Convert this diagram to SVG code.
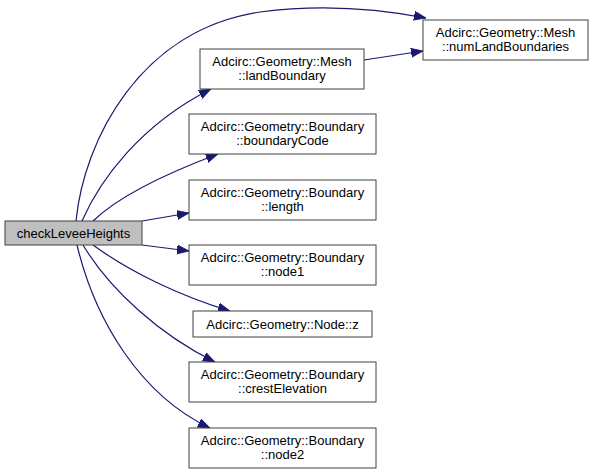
<svg xmlns="http://www.w3.org/2000/svg" width="593" height="474" viewBox="0 0 593 474">
<style>
.n rect{fill:#ffffff;stroke:#404040;stroke-width:1}
.n text{font-family:"Liberation Sans",Arial,sans-serif;font-size:13px;fill:#000;text-anchor:middle}
.root rect{fill:#bfbfbf}
.e path{fill:none;stroke:#191970;stroke-width:1.2;marker-end:url(#ah)}
</style>
<defs>
<marker id="ah" markerUnits="userSpaceOnUse" markerWidth="13" markerHeight="10" refX="12" refY="4.5" orient="auto">
<path d="M0,0 L12,4.5 L0,9 z" fill="#191970" stroke="#191970" stroke-width="0.8"/>
</marker>
</defs>
<rect width="593" height="474" fill="#ffffff"/>
<g id="connectors" class="e">
<path d="M76,221 C 84,140 140,30 260,12 C 320,4 380,9 426,18"/>
<path d="M82,221 C 100,180 140,125 211,89"/>
<path d="M93,221 C 120,195 170,172 218,154"/>
<path d="M142,221 L189,213"/>
<path d="M364,60 L423,51"/>
<path d="M142,245 L189,251"/>
<path d="M93,245 C 130,272 180,296 230,311"/>
<path d="M83,245 C 110,290 160,335 215,362"/>
<path d="M77,245 C 95,320 140,395 210,428"/>
</g>
<g id="checkLeveeHeights" class="n root"><rect x="5" y="221" width="137" height="24"/><text x="73.5" y="237.5">checkLeveeHeights</text></g>
<g id="numLandBoundaries" class="n"><rect x="423" y="20" width="165" height="40"/><text x="505.5" y="37">Adcirc::Geometry::Mesh</text><text x="505.5" y="51">::numLandBoundaries</text></g>
<g id="landBoundary" class="n"><rect x="200" y="49" width="164" height="40"/><text x="282" y="66">Adcirc::Geometry::Mesh</text><text x="282" y="80">::landBoundary</text></g>
<g id="boundaryCode" class="n"><rect x="189" y="114" width="187" height="40"/><text x="282.5" y="131">Adcirc::Geometry::Boundary</text><text x="282.5" y="145">::boundaryCode</text></g>
<g id="length" class="n"><rect x="189" y="180" width="187" height="40"/><text x="282.5" y="197">Adcirc::Geometry::Boundary</text><text x="282.5" y="211">::length</text></g>
<g id="node1" class="n"><rect x="189" y="245" width="187" height="40"/><text x="282.5" y="262">Adcirc::Geometry::Boundary</text><text x="282.5" y="276">::node1</text></g>
<g id="z" class="n"><rect x="193" y="311" width="179" height="26"/><text x="282.5" y="328.5">Adcirc::Geometry::Node::z</text></g>
<g id="crestElevation" class="n"><rect x="189" y="362" width="187" height="40"/><text x="282.5" y="379">Adcirc::Geometry::Boundary</text><text x="282.5" y="393">::crestElevation</text></g>
<g id="node2" class="n"><rect x="189" y="428" width="187" height="40"/><text x="282.5" y="445">Adcirc::Geometry::Boundary</text><text x="282.5" y="459">::node2</text></g>
</svg>
